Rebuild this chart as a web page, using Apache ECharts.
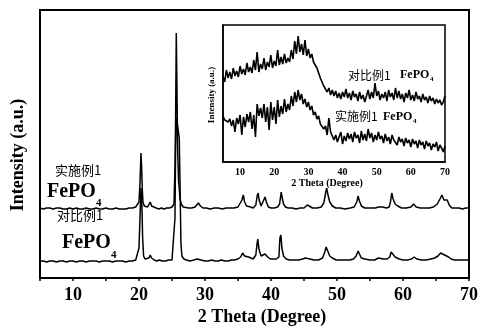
<!DOCTYPE html>
<html>
<head>
<meta charset="utf-8">
<script src="https://cdn.jsdelivr.net/npm/echarts@6/dist/echarts.min.js"></script>
<style>
  html, body { margin: 0; padding: 0; background: #fff; }
  #chart { width: 501px; height: 336px; }
</style>
</head>
<body>
<div id="chart"></div>
<script>
// XRD patterns of FePO4 samples (intensity, a.u., stacked with offset)
// 实施例1 FePO4 (upper pattern), [2θ, intensity]
const pattern1 = [
  [5,70],[5.5,69],[6,70],[6.5,70],[7,69],[7.5,70],[8,70],[8.5,69],[9,69],[9.5,70],
  [10,69],[10.5,70],[11,69],[11.5,69],[12,70],[12.5,69],[13,69],[13.5,70],[14,69],[14.5,69],
  [15,70],[15.5,69],[16,69],[16.5,70],[17,69],[17.5,69],[18,69],[18.5,70],[19,70],[19.5,71],
  [19.8,72],[20.0,76],[20.15,95],[20.3,125],[20.4,110],[20.5,88],[20.6,76],[20.8,72],[21.0,71],[21.3,71],
  [21.5,73],[21.7,76],[21.9,72],[22.2,70],[22.6,70],[23.0,69],[23.4,70],[23.8,69],[24.2,70],[24.6,70],
  [25.0,71],[25.3,74],[25.45,110],[25.55,161],[25.65,245],[25.75,190],[25.85,130],[26.0,96],[26.1,90],[26.2,80],
  [26.4,74],[26.7,71],[27.0,70],[27.5,70],[28.0,70],[28.5,71],[28.8,73],[29.0,75],[29.3,72],[29.7,70],
  [30.2,70],[30.8,69],[31.4,70],[32.0,70],[32.6,69],[33.2,70],[33.8,70],[34.4,70],[35.0,71],[35.3,72],
  [35.6,78],[35.8,83],[36.0,76],[36.3,72],[36.6,74],[36.9,71],[37.3,70],[37.7,73],[37.9,82],[38.05,85],
  [38.2,78],[38.5,72],[38.8,74],[39.1,81],[39.3,76],[39.6,71],[40.0,70],[40.5,70],[41.0,71],[41.3,74],
  [41.55,86],[41.7,80],[41.9,74],[42.2,71],[42.6,70],[43.2,70],[43.8,69],[44.4,70],[45.0,70],[45.3,72],
  [45.5,73],[45.8,71],[46.3,70],[47.0,70],[47.6,71],[48.0,75],[48.3,86],[48.45,90],[48.6,84],[48.9,76],
  [49.3,72],[49.8,70],[50.5,70],[51.2,69],[52.0,70],[52.6,71],[53.0,76],[53.2,82],[53.4,77],[53.7,72],
  [54.2,70],[55.0,70],[55.8,70],[56.3,71],[56.6,73],[56.9,71],[57.5,70],[57.9,71],[58.1,76],[58.3,85],
  [58.5,79],[58.8,74],[59.2,72],[59.8,70],[60.5,70],[61.2,71],[61.6,74],[62.0,71],[62.6,70],[63.3,70],
  [64.0,70],[64.6,71],[65.2,74],[65.6,79],[65.9,83],[66.2,78],[66.5,76],[66.7,78],[67.0,73],[67.4,70],
  [68.0,70],[68.5,70],[69.0,69],[69.5,70],[70.0,70]
];

// 对比例1 FePO4 (lower pattern), [2θ, intensity]
const pattern2 = [
  [5,17],[5.5,17],[6,16],[6.5,17],[7,17],[7.5,16],[8,17],[8.5,17],[9,16],[9.5,17],
  [10,17],[10.5,16],[11,17],[11.5,17],[12,16],[12.5,17],[13,17],[13.5,17],[14,16],[14.5,17],
  [15,17],[15.5,17],[16,16],[16.5,17],[17,17],[17.5,17],[18,16],[18.5,17],[19,17],[19.5,18],
  [19.8,20],[20.0,30],[20.15,60],[20.3,90],[20.45,70],[20.55,40],[20.7,22],[20.9,19],[21.2,18],[21.5,20],
  [21.7,23],[21.9,20],[22.3,18],[22.7,17],[23.1,18],[23.5,17],[24.0,17],[24.5,18],[25.0,18],[25.3,20],
  [25.45,60],[25.55,130],[25.7,160],[25.9,150],[26.1,140],[26.25,80],[26.35,35],[26.5,22],[26.8,19],[27.2,18],
  [27.7,17],[28.3,18],[28.8,19],[29.1,20],[29.4,18],[30.0,17],[30.5,17],[31.0,18],[31.5,17],[32.0,17],
  [32.5,18],[33.0,17],[33.5,17],[34.0,18],[34.5,18],[35.0,19],[35.4,21],[35.7,25],[36.0,22],[36.3,20],
  [36.6,21],[36.9,19],[37.3,19],[37.7,23],[37.9,35],[38.0,39],[38.15,30],[38.3,26],[38.5,22],[38.8,21],
  [39.1,24],[39.3,25],[39.5,21],[39.9,19],[40.3,19],[40.8,19],[41.2,21],[41.35,40],[41.5,43],[41.65,30],
  [41.9,22],[42.3,19],[42.8,18],[43.5,18],[44.2,18],[44.8,19],[45.2,20],[45.5,21],[45.9,19],[46.5,18],
  [47.2,18],[47.8,20],[48.1,25],[48.35,31],[48.6,27],[48.9,22],[49.3,20],[49.9,18],[50.5,18],[51.2,18],
  [51.9,18],[52.5,19],[52.9,22],[53.2,27],[53.4,24],[53.7,20],[54.2,19],[55.0,18],[55.7,18],[56.3,20],
  [56.6,21],[57.0,19],[57.6,19],[58.0,21],[58.2,26],[58.4,24],[58.8,21],[59.4,19],[60.0,18],[60.7,18],
  [61.3,19],[61.7,21],[62.1,19],[62.8,18],[63.5,18],[64.2,19],[64.8,20],[65.3,22],[65.7,25],[66.0,26],
  [66.3,23],[66.6,24],[66.9,21],[67.3,19],[67.8,18],[68.5,18],[69.0,18],[69.5,18],[70.0,18]
];

// Inset scans: 2θ from 5° in 0.5° steps
const insetStart = 5;
const insetStep = 0.5;
// 对比例1 FePO4 (upper inset scan)
const insetScan2 = [
  86,80,92,84,90,83,94,86,91,85,
  96,88,93,87,99,90,95,89,102,92,
  110,90,98,93,104,92,100,95,107,94,
  101,96,112,97,105,98,108,99,104,100,
  112,103,121,108,126,110,118,107,122,106,
  113,104,108,100,102,94,92,84,86,76,
  78,70,74,67,72,66,71,64,69,63,
  70,65,73,64,69,62,71,65,68,61,
  70,63,67,60,66,72,63,70,64,79,
  66,71,62,68,64,70,61,72,65,69,
  62,74,64,71,63,68,60,69,64,72,
  62,67,61,70,63,66,60,68,62,65,
  59,66,61,64,58,63,59,62,57,60,
  66
];
// 实施例1 FePO4 (lower inset scan)
const insetScan1 = [
  46,42,44,40,43,36,42,30,44,38,
  47,27,45,35,48,40,50,33,47,25,
  58,46,54,44,58,40,55,32,60,42,
  55,38,62,45,56,48,63,50,58,52,
  66,56,70,60,72,62,68,58,63,55,
  60,52,56,47,50,43,46,38,40,33,
  36,27,44,30,28,22,27,20,25,30,
  18,26,21,29,23,28,20,30,24,27,
  19,31,22,28,21,33,24,29,20,27,
  22,30,23,26,19,28,21,25,18,27,
  22,24,17,25,20,23,16,24,19,22,
  15,23,18,21,14,22,17,20,13,21,
  16,19,12,18,15,20,11,17,14,10,
  16
];

const xTickLabels = [10, 20, 30, 40, 50, 60, 70];

function toPairs(values) {
  return values.map((v, i) => [insetStart + i * insetStep, v]);
}

const serif = "'Liberation Serif', 'DejaVu Serif', serif";
const cjk = "'Noto Sans CJK SC', sans-serif";

const chart = echarts.init(document.getElementById('chart'), null, { renderer: 'canvas' });

function tickFormatter(v) {
  return xTickLabels.indexOf(v) >= 0 ? String(v) : '';
}

chart.setOption({
  animation: false,
  backgroundColor: '#fff',
  grid: [
    { left: 40, top: 10, width: 429, height: 268, show: true, borderColor: '#000', borderWidth: 2, backgroundColor: 'transparent' },
    { left: 223, top: 25, width: 222, height: 137, show: true, borderColor: '#000', borderWidth: 1.5, backgroundColor: '#fff' }
  ],
  xAxis: [
    {
      gridIndex: 0, type: 'value', min: 5, max: 70, interval: 5,
      axisLine: { show: true, lineStyle: { color: '#000', width: 2 } },
      axisTick: { show: true, inside: false, length: 3, lineStyle: { color: '#000', width: 1.5 } },
      axisLabel: { formatter: tickFormatter, color: '#000', fontFamily: serif, fontWeight: 'bold', fontSize: 18, margin: 8 },
      splitLine: { show: false }
    },
    {
      gridIndex: 1, type: 'value', min: 5, max: 70, interval: 5,
      axisLine: { show: true, lineStyle: { color: '#000', width: 1.5 } },
      axisTick: { show: false },
      axisLabel: { formatter: tickFormatter, color: '#000', fontFamily: serif, fontWeight: 'bold', fontSize: 10, margin: 5 },
      splitLine: { show: false }
    }
  ],
  yAxis: [
    {
      gridIndex: 0, type: 'value', min: 0, max: 268,
      axisLine: { show: true, lineStyle: { color: '#000', width: 2 } },
      axisTick: { show: false }, axisLabel: { show: false }, splitLine: { show: false }
    },
    {
      gridIndex: 1, type: 'value', min: 0, max: 137,
      axisLine: { show: true, lineStyle: { color: '#000', width: 1.5 } },
      axisTick: { show: false }, axisLabel: { show: false }, splitLine: { show: false }
    }
  ],
  series: [
    { type: 'line', name: '实施例1', xAxisIndex: 0, yAxisIndex: 0, data: pattern1, showSymbol: false, lineStyle: { color: '#000', width: 1.5 } },
    { type: 'line', name: '对比例1', xAxisIndex: 0, yAxisIndex: 0, data: pattern2, showSymbol: false, lineStyle: { color: '#000', width: 1.5 } },
    { type: 'line', name: '对比例1 inset', xAxisIndex: 1, yAxisIndex: 1, data: toPairs(insetScan2), showSymbol: false, lineStyle: { color: '#000', width: 1.6 } },
    { type: 'line', name: '实施例1 inset', xAxisIndex: 1, yAxisIndex: 1, data: toPairs(insetScan1), showSymbol: false, lineStyle: { color: '#000', width: 1.6 } }
  ],
  graphic: [
    // axis titles
    { type: 'text', x: 18, y: 155, rotation: Math.PI / 2, style: { text: 'Intensity (a.u.)', font: 'bold 18px ' + serif, fill: '#000', align: 'center', verticalAlign: 'middle' } },
    { type: 'text', x: 262, y: 317, style: { text: '2 Theta (Degree)', font: 'bold 18px ' + serif, fill: '#000', align: 'center', verticalAlign: 'middle' } },
    { type: 'text', x: 212, y: 95, rotation: Math.PI / 2, style: { text: 'Intensity (a.u.)', font: 'bold 9px ' + serif, fill: '#000', align: 'center', verticalAlign: 'middle' } },
    { type: 'text', x: 327, y: 183, style: { text: '2 Theta (Degree)', font: 'bold 10px ' + serif, fill: '#000', align: 'center', verticalAlign: 'middle' } },
    // main pattern labels
    { type: 'text', x: 55, y: 170, style: { text: '实施例1', font: '13px ' + cjk, fill: '#000', align: 'left', verticalAlign: 'middle' } },
    { type: 'text', x: 47, y: 192, style: { text: 'FePO', font: 'bold 20px ' + serif, fill: '#000', align: 'left', verticalAlign: 'middle' } },
    { type: 'text', x: 96, y: 203, style: { text: '4', font: 'bold 11px ' + serif, fill: '#000', align: 'left', verticalAlign: 'middle' } },
    { type: 'text', x: 57, y: 215, style: { text: '对比例1', font: '13px ' + cjk, fill: '#000', align: 'left', verticalAlign: 'middle' } },
    { type: 'text', x: 62, y: 243, style: { text: 'FePO', font: 'bold 20px ' + serif, fill: '#000', align: 'left', verticalAlign: 'middle' } },
    { type: 'text', x: 111, y: 255, style: { text: '4', font: 'bold 11px ' + serif, fill: '#000', align: 'left', verticalAlign: 'middle' } },
    // inset labels
    { type: 'text', x: 348, y: 75, z: 10, style: { text: '对比例1', font: '12px ' + cjk, fill: '#000', align: 'left', verticalAlign: 'middle' } },
    { type: 'text', x: 400, y: 75, z: 10, style: { text: 'FePO', font: 'bold 12px ' + serif, fill: '#000', align: 'left', verticalAlign: 'middle' } },
    { type: 'text', x: 430, y: 79, z: 10, style: { text: '4', font: 'bold 7px ' + serif, fill: '#000', align: 'left', verticalAlign: 'middle' } },
    { type: 'text', x: 335, y: 116, z: 10, style: { text: '实施例1', font: '12px ' + cjk, fill: '#000', align: 'left', verticalAlign: 'middle' } },
    { type: 'text', x: 383, y: 117, z: 10, style: { text: 'FePO', font: 'bold 12px ' + serif, fill: '#000', align: 'left', verticalAlign: 'middle' } },
    { type: 'text', x: 413, y: 121, z: 10, style: { text: '4', font: 'bold 7px ' + serif, fill: '#000', align: 'left', verticalAlign: 'middle' } }
  ]
});
</script>
</body>
</html>
